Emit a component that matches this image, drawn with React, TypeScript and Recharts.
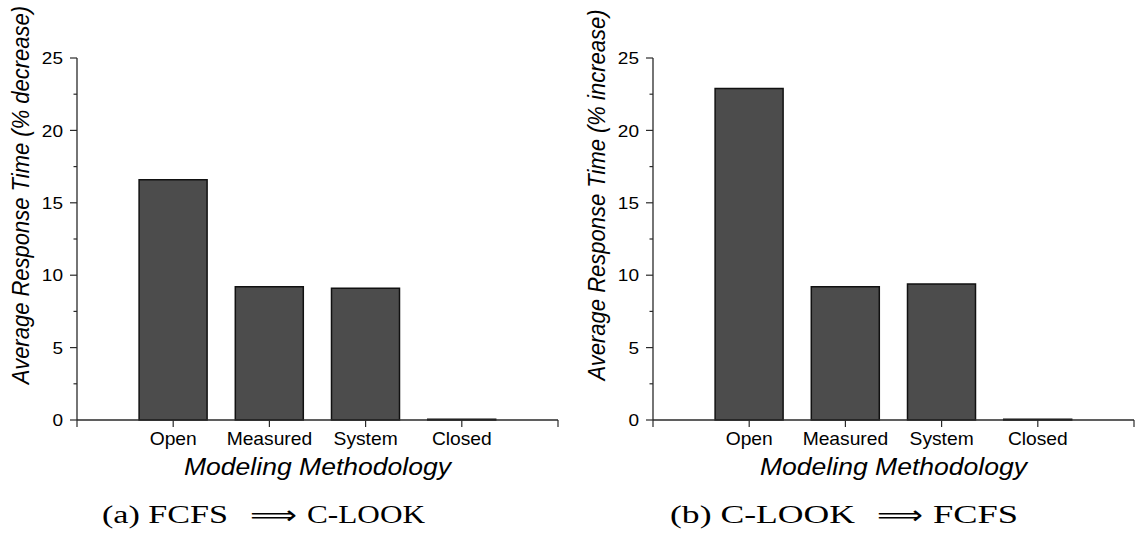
import React from 'react';
import { BarChart, Bar, XAxis, YAxis, Label } from 'recharts';

const categories = ['Open', 'Measured', 'System', 'Closed'];
const decreaseValues = [16.6, 9.2, 9.1, 0.05];
const increaseValues = [22.9, 9.2, 9.4, 0.05];
const yTicks = [0, 2.5, 5, 7.5, 10, 12.5, 15, 17.5, 20, 22.5, 25];
const xTicks = [0, 1, 2, 3, 4, 5];
const yTitleLeft = 'Average Response Time (% decrease)';
const yTitleRight = 'Average Response Time (% increase)';
const xTitle = 'Modeling Methodology';

const SANS = '"Liberation Sans", Arial, Helvetica, sans-serif';
const SERIF = '"Liberation Serif", "Times New Roman", serif';
const AXIS = '#2a2a2a';
const BAR_FILL = '#4c4c4c';

const buildData = (vals: number[]) =>
  categories.map((c, i) => ({ x: i + 1, name: c, value: vals[i] }));

const YTick = (props: any) => {
  const { x, y, payload } = props;
  const v = payload.value as number;
  const major = v % 5 === 0;
  return (
    <g>
      <line x1={x - (major ? 7 : 3.5)} x2={x} y1={y} y2={y} stroke={AXIS} strokeWidth={1.2} />
      {major && (
        <text
          transform={`translate(${x - 14},${y}) scale(1.12,1)`}
          textAnchor="end"
          dy="0.36em"
          fontSize={17}
          fontFamily={SANS}
          fill="#000"
        >
          {v}
        </text>
      )}
    </g>
  );
};

const XTick = (props: any) => {
  const { x, y, payload } = props;
  const v = payload.value as number;
  const label = v >= 1 && v <= categories.length ? categories[v - 1] : '';
  return (
    <g>
      <line x1={x} x2={x} y1={y} y2={y + 7} stroke={AXIS} strokeWidth={1.2} />
      {label && (
        <text
          transform={`translate(${x},${y + 25}) scale(1.1,1)`}
          textAnchor="middle"
          fontSize={17.5}
          fontFamily={SANS}
          fill="#000"
        >
          {label}
        </text>
      )}
    </g>
  );
};

const YTitle = (props: any) => {
  const { viewBox, text } = props;
  const cx = viewBox.x + 29;
  const cy = viewBox.y + 137;
  return (
    <text
      transform={`translate(${cx},${cy}) scale(1.12,1) rotate(-90)`}
      textAnchor="middle"
      fontSize={22}
      fontStyle="italic"
      fontFamily={SANS}
      fill="#000"
    >
      {text}
    </text>
  );
};

const XTitle = (props: any) => {
  const { viewBox, text } = props;
  const cx = viewBox.x + viewBox.width / 2;
  const cy = viewBox.y + 55;
  return (
    <text
      transform={`translate(${cx},${cy}) scale(1.13,1)`}
      textAnchor="middle"
      fontSize={23.5}
      fontStyle="italic"
      fontFamily={SANS}
      fill="#000"
    >
      {text}
    </text>
  );
};

const Panel = ({ values, yTitle, width, marginRight }: { values: number[]; yTitle: string; width: number; marginRight: number }) => (
  <BarChart
    width={width}
    height={500}
    data={buildData(values)}
    margin={{ top: 58, right: marginRight, bottom: 0, left: 0 }}
  >
    <XAxis
      dataKey="x"
      type="number"
      domain={[0, 5]}
      ticks={xTicks}
      interval={0}
      height={80}
      tickSize={0}
      tickMargin={0}
      tickLine={false}
      axisLine={{ stroke: AXIS, strokeWidth: 1.3 }}
      tick={<XTick />}
    >
      <Label content={<XTitle text={xTitle} />} />
    </XAxis>
    <YAxis
      type="number"
      domain={[0, 25]}
      ticks={yTicks}
      interval={0}
      width={77}
      tickSize={0}
      tickMargin={0}
      tickLine={false}
      axisLine={{ stroke: AXIS, strokeWidth: 1.3 }}
      tick={<YTick />}
    >
      <Label content={<YTitle text={yTitle} />} />
    </YAxis>
    <Bar
      dataKey="value"
      barSize={68}
      fill={BAR_FILL}
      stroke="#111"
      strokeWidth={1.5}
      isAnimationActive={false}
    />
  </BarChart>
);

const Caption = ({ parts }: { parts: { t: string; x: number; w: number; arrow?: boolean }[] }) => (
  <>
    {parts.map((p, i) => (
      <text
        key={i}
        x={p.x}
        y={p.arrow ? 524 : 523}
        textLength={p.w}
        lengthAdjust="spacingAndGlyphs"
        fontSize={p.arrow ? 26 : 25}
        fontFamily={p.arrow ? '"DejaVu Sans", sans-serif' : SERIF}
        fill="#000"
      >
        {p.t}
      </text>
    ))}
  </>
);

export default function App() {
  return (
    <div style={{ position: 'absolute', left: 0, top: 0, width: 1135, height: 550, background: '#fff', overflow: 'hidden' }}>
      <div style={{ position: 'absolute', left: 0, top: 0 }}>
        <Panel values={decreaseValues} yTitle={yTitleLeft} width={570} marginRight={12} />
      </div>
      <div style={{ position: 'absolute', left: 576, top: 0 }}>
        <Panel values={increaseValues} yTitle={yTitleRight} width={559} marginRight={1} />
      </div>
      <svg width={1135} height={550} style={{ position: 'absolute', left: 0, top: 0, pointerEvents: 'none' }}>
        <Caption
          parts={[
            { t: '(a) FCFS', x: 102, w: 126 },
            { t: '⟹', x: 250, w: 47, arrow: true },
            { t: 'C-LOOK', x: 307, w: 118 },
          ]}
        />
        <Caption
          parts={[
            { t: '(b) C-LOOK', x: 670, w: 185 },
            { t: '⟹', x: 877, w: 46, arrow: true },
            { t: 'FCFS', x: 933, w: 85 },
          ]}
        />
      </svg>
    </div>
  );
}
